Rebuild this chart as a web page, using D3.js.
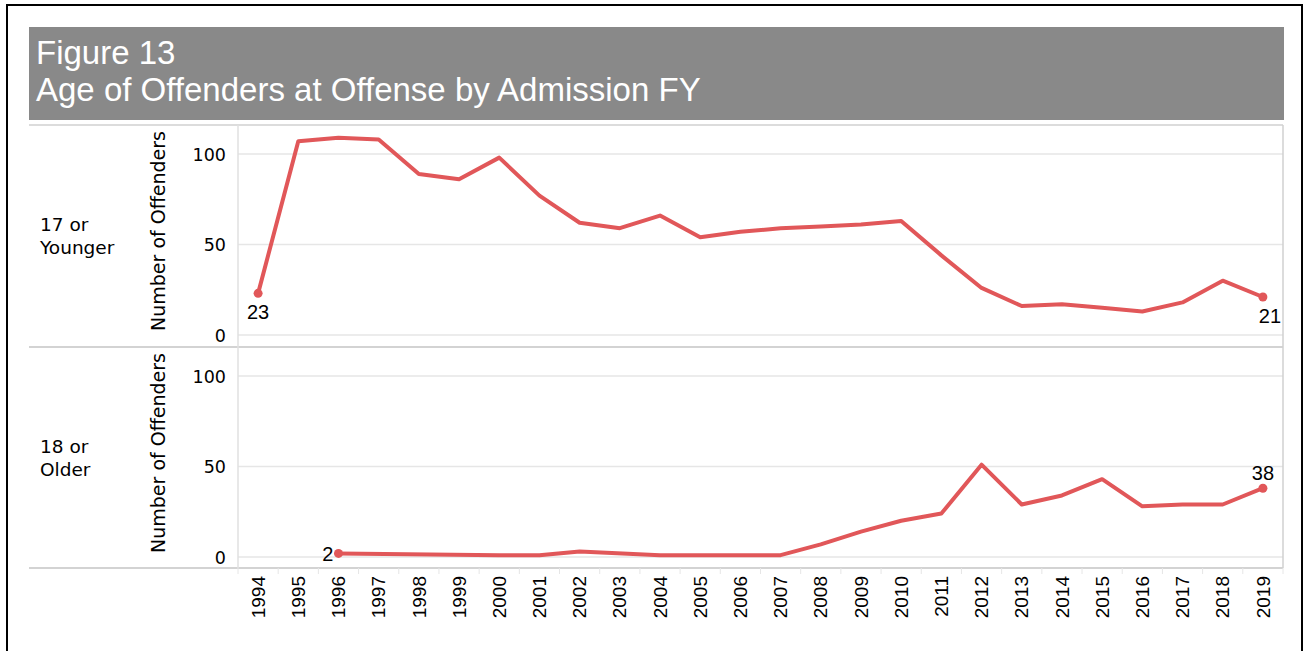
<!DOCTYPE html>
<head>
  <meta charset="utf-8">
  <script src="https://d3js.org/d3.v7.min.js"></script>
  <style>
  body { margin: 0; background: #fff; }
  svg text { font-family: "Liberation Sans", Arial, sans-serif; fill: #000; }
  svg text.wide { font-family: "DejaVu Sans", sans-serif; }
  </style>
</head>

<body>
  <svg id="chart"></svg>
  <script>

    var years = ["1994","1995","1996","1997","1998","1999","2000","2001","2002","2003","2004","2005","2006",
                 "2007","2008","2009","2010","2011","2012","2013","2014","2015","2016","2017","2018","2019"];
    var paneLabels = [["17 or", "Younger"], ["18 or", "Older"]];
    var youngerValues = [23,107,109,108,89,86,98,77,62,59,66,54,57,59,60,61,63,44,26,16,17,15,13,18,30,21];
    var olderValues = [null,null,2,null,null,null,1,1,3,null,1,1,1,1,7,14,20,24,51,29,34,43,28,29,29,38];
    var yTicks = [0, 50, 100];
    var axisTitle = "Number of Offenders";
    var titleLines = ["Figure 13", "Age of Offenders at Offense by Admission FY"];

    var width = 1307, height = 651;
    var left = 29, right = 1284, plotLeft = 238, plotRight = 1283;
    var paneTops = [125, 347], paneHeight = 221;
    var red = "#e15759";

    var svg = d3.select("#chart")
        .attr("width", width)
        .attr("height", height);

    // outer frame and title bar
    svg.append("rect")
        .attr("x", 7).attr("y", 5).attr("width", 1295).attr("height", 700)
        .attr("fill", "none").attr("stroke", "#000").attr("stroke-width", 2);

    svg.append("rect")
        .attr("x", left).attr("y", 27).attr("width", right - left).attr("height", 93)
        .attr("fill", "#898989");

    svg.selectAll(".title")
        .data(titleLines)
      .enter().append("text")
        .attr("x", 36)
        .attr("y", function(d, i) { return 64 + i * 37; })
        .style("font-size", "33px")
        .style("fill", "#fff")
        .text(function(d) { return d; });

    var x = d3.scaleBand()
        .domain(years)
        .range([plotLeft, plotRight]);

    var series = [youngerValues, olderValues];

    series.forEach(function(values, p) {
      var top = paneTops[p];
      var y = d3.scaleLinear()
          .domain([0, 100])
          .range([top + 210, top + 29]);

      var g = svg.append("g");

      // gridlines
      g.selectAll(".grid")
          .data(yTicks)
        .enter().append("line")
          .attr("x1", plotLeft).attr("x2", plotRight)
          .attr("y1", function(d) { return y(d); })
          .attr("y2", function(d) { return y(d); })
          .attr("stroke", "#e6e6e6").attr("stroke-width", 1.5);

      // tick labels
      g.selectAll(".tick")
          .data(yTicks)
        .enter().append("text")
          .attr("class", "wide")
          .attr("x", 226)
          .attr("y", function(d) { return y(d) + 6.5; })
          .attr("text-anchor", "end")
          .style("font-size", "17.5px")
          .text(function(d) { return d; });

      // axis title
      g.append("text")
          .attr("class", "wide")
          .attr("transform", "translate(165," + (top + 106) + ") rotate(-90)")
          .attr("text-anchor", "middle")
          .style("font-size", "19px")
          .text(axisTitle);

      // row header
      g.selectAll(".rowlabel")
          .data(paneLabels[p])
        .enter().append("text")
          .attr("class", "wide")
          .attr("x", 40)
          .attr("y", function(d, i) { return top + 106 + i * 23; })
          .style("font-size", "18.5px")
          .text(function(d) { return d; });

      var pts = years.map(function(yr, i) { return { year: yr, value: values[i] }; })
          .filter(function(d) { return d.value != null; });

      var line = d3.line()
          .x(function(d) { return x(d.year) + x.bandwidth() / 2; })
          .y(function(d) { return y(d.value); });

      g.append("path")
          .datum(pts)
          .attr("d", line)
          .attr("fill", "none")
          .attr("stroke", red)
          .attr("stroke-width", 4)
          .attr("stroke-linejoin", "round");

      var ends = [pts[0], pts[pts.length - 1]];
      g.selectAll(".end")
          .data(ends)
        .enter().append("circle")
          .attr("cx", function(d) { return x(d.year) + x.bandwidth() / 2; })
          .attr("cy", function(d) { return y(d.value); })
          .attr("r", 4.5)
          .attr("fill", red);

      g.selectAll(".endlabel")
          .data(ends)
        .enter().append("text")
          .attr("x", function(d, i) {
            var cx = x(d.year) + x.bandwidth() / 2;
            if (p === 1 && i === 0) return cx - 5;
            if (p === 0 && i === 1) return cx + 7;
            return cx;
          })
          .attr("y", function(d, i) {
            if (p === 1 && i === 0) return y(d.value) + 8;
            if (p === 1 && i === 1) return y(d.value) - 8;
            return y(d.value) + 26;
          })
          .attr("text-anchor", function(d, i) { return (p === 1 && i === 0) ? "end" : "middle"; })
          .style("font-size", "20px")
          .text(function(d) { return d.value; });
    });

    // pane borders
    var borders = svg.append("g").attr("stroke", "#d0d0d0").attr("stroke-width", 1.5);
    borders.append("line").attr("x1", left).attr("x2", plotRight).attr("y1", paneTops[0]).attr("y2", paneTops[0]);
    borders.append("line").attr("x1", left).attr("x2", plotRight).attr("y1", paneTops[1]).attr("y2", paneTops[1]).attr("stroke", "#c4c4c4");
    borders.append("line").attr("x1", left).attr("x2", plotRight).attr("y1", paneTops[1] + paneHeight).attr("y2", paneTops[1] + paneHeight).attr("stroke", "#c4c4c4");
    borders.append("line").attr("x1", plotLeft).attr("x2", plotLeft).attr("y1", paneTops[0]).attr("y2", paneTops[1] + paneHeight).attr("stroke", "#e0e0e0");
    borders.append("line").attr("x1", plotRight).attr("x2", plotRight).attr("y1", paneTops[0]).attr("y2", paneTops[1] + paneHeight);

    // x axis
    var axisY = paneTops[1] + paneHeight;
    var xAxis = svg.append("g")
        .attr("transform", "translate(0," + axisY + ")")
        .call(d3.axisBottom(x).tickSize(0).tickPadding(0));
    xAxis.select(".domain").remove();
    xAxis.selectAll("text")
        .attr("transform", "rotate(-90)")
        .attr("x", -8)
        .attr("y", 0)
        .attr("dy", "0.35em")
        .attr("text-anchor", "end")
        .style("font-size", "19px")
        .style("font-family", "Liberation Sans, Arial, sans-serif")
        .style("fill", "#000");

    svg.append("g").selectAll("line")
        .data(years.concat(["end"]))
      .enter().append("line")
        .attr("x1", function(d, i) { return plotLeft + i * x.step(); })
        .attr("x2", function(d, i) { return plotLeft + i * x.step(); })
        .attr("y1", axisY).attr("y2", axisY + 6)
        .attr("stroke", "#e6e6e6");

  </script>
</body>
